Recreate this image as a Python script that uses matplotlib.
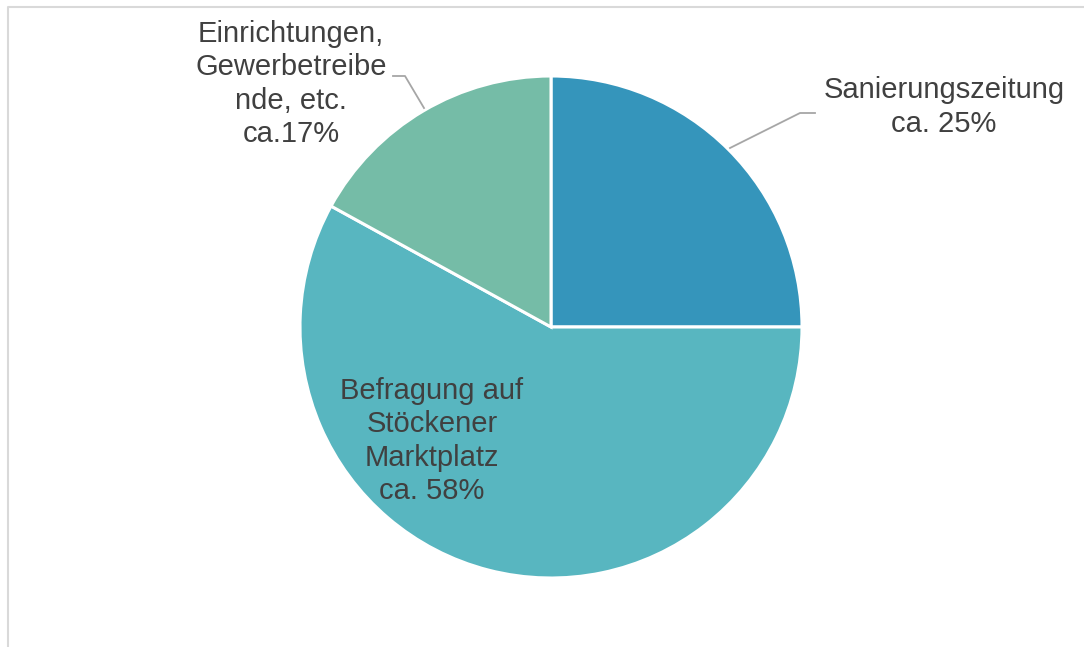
import matplotlib
matplotlib.use("Agg")
import matplotlib.pyplot as plt

labels = ["Sanierungszeitung\nca. 25%", "Befragung auf\nStöckener\nMarktplatz\nca. 58%", "Einrichtungen,\nGewerbetreibe\nnde, etc.\nca.17%"]
values = [25, 58, 17]
colors = ["#3595bb", "#58b6c0", "#75bca7"]

W, H = 1084, 647
fig = plt.figure(figsize=(W / 100, H / 100), dpi=100)
ax = fig.add_axes([0, 0, 1, 1])

# frame
ax.plot([7.5, 7.5, W + 5], [-5, H - 6.5, H - 6.5], color="#d9d9d9", lw=1.5, solid_capstyle="butt")

cx, cy, r = 551, H - 327, 251
ax.pie(values, colors=colors, startangle=90, counterclock=False,
       center=(cx, cy), radius=r, frame=True,
       wedgeprops=dict(edgecolor="white", linewidth=2.2))
ax.set_xlim(0, W)
ax.set_ylim(0, H)
ax.set_aspect("equal")
ax.axis("off")

tc = "#404040"
fs = 21
font = "Liberation Sans"
ls = 1.24
# Sanierungszeitung
ax.text(944, H - 107, labels[0], ha="center", va="center", fontsize=fs, color=tc,
        family=font, linespacing=ls)
ax.plot([730, 800, 815], [H - 148, H - 113, H - 113], color="#a6a6a6", lw=1.3)
# Befragung
ax.text(432, H - 441, labels[1], ha="center", va="center", fontsize=fs, color=tc,
        family=font, linespacing=ls)
# Einrichtungen
ax.text(291, H - 84, labels[2], ha="center", va="center", fontsize=fs, color=tc,
        family=font, linespacing=ls)
ax.plot([424, 405, 393], [H - 108, H - 76, H - 76], color="#a6a6a6", lw=1.3)

fig.savefig("out.png", dpi=100)
